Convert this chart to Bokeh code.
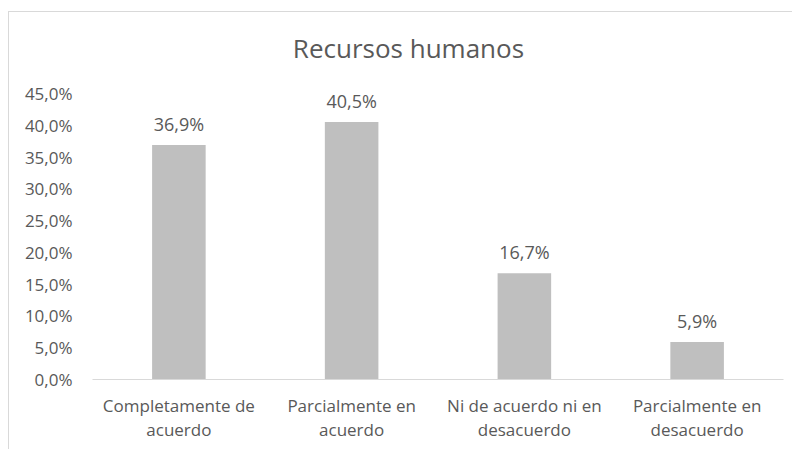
from bokeh.plotting import figure
from bokeh.models import ColumnDataSource, FixedTicker, Range1d, Label
from bokeh.core.properties import value
from bokeh.embed import file_html
from bokeh.resources import INLINE

title_text = "Recursos humanos"
categories = [
    "Completamente de\nacuerdo",
    "Parcialmente en\nacuerdo",
    "Ni de acuerdo ni en\ndesacuerdo",
    "Parcialmente en\ndesacuerdo",
]
values = [36.9, 40.5, 16.7, 5.9]
value_labels = ["36,9%", "40,5%", "16,7%", "5,9%"]
y_ticks = [0, 5, 10, 15, 20, 25, 30, 35, 40, 45]
y_tick_labels = ["0,0%", "5,0%", "10,0%", "15,0%", "20,0%", "25,0%", "30,0%", "35,0%", "40,0%", "45,0%"]

FONT = "Open Sans"
TXT = "#595959"

src = ColumnDataSource(dict(cat=categories, val=values, lab=value_labels))

# frame extends above the 45% tick so the chart title can sit inside the canvas
p = figure(
    x_range=categories,
    y_range=Range1d(0, 57.74),
    frame_width=691, frame_height=367,
    output_backend="svg", toolbar_location=None,
    min_border_left=83, min_border_right=9,
    min_border_top=0, min_border_bottom=70,
)
p.styles = {"border-top": "1px solid #d9d9d9", "border-left": "1px solid #d9d9d9",
            "margin-top": "11px", "margin-left": "8px"}
p.outline_line_color = None
p.xgrid.grid_line_color = None
p.ygrid.grid_line_color = None
p.x_range.range_padding = 0

p.vbar(x="cat", top="val", width=0.31, source=src, fill_color="#BFBFBF", line_color=None)
p.text(x="cat", y="val", text="lab", source=src, text_align="center", text_baseline="bottom",
       y_offset=-9, text_font=value(FONT), text_font_size="18px", text_color=TXT)

p.add_layout(Label(x=1.829, y=52.23, text=title_text, text_align="center", text_baseline="middle",
                   text_font=FONT, text_font_size="26px", text_color=TXT))

p.yaxis.ticker = FixedTicker(ticks=y_ticks)
p.yaxis.major_label_overrides = {t: l for t, l in zip(y_ticks, y_tick_labels)}
p.yaxis.axis_line_color = None
p.yaxis.major_tick_line_color = None
p.yaxis.minor_tick_line_color = None
p.yaxis.major_label_text_font = FONT
p.yaxis.major_label_text_font_size = "17px"
p.yaxis.major_label_text_color = TXT
p.yaxis.major_label_standoff = 14

p.xaxis.axis_line_color = "#D9D9D9"
p.xaxis.major_tick_line_color = None
p.xaxis.minor_tick_line_color = None
p.xaxis.major_label_text_font = FONT
p.xaxis.major_label_text_font_size = "17px"
p.xaxis.major_label_text_color = TXT
p.xaxis.major_label_text_line_height = 1.05
p.xaxis.major_label_standoff = 8

open("out.html", "w").write(file_html(p, INLINE))
